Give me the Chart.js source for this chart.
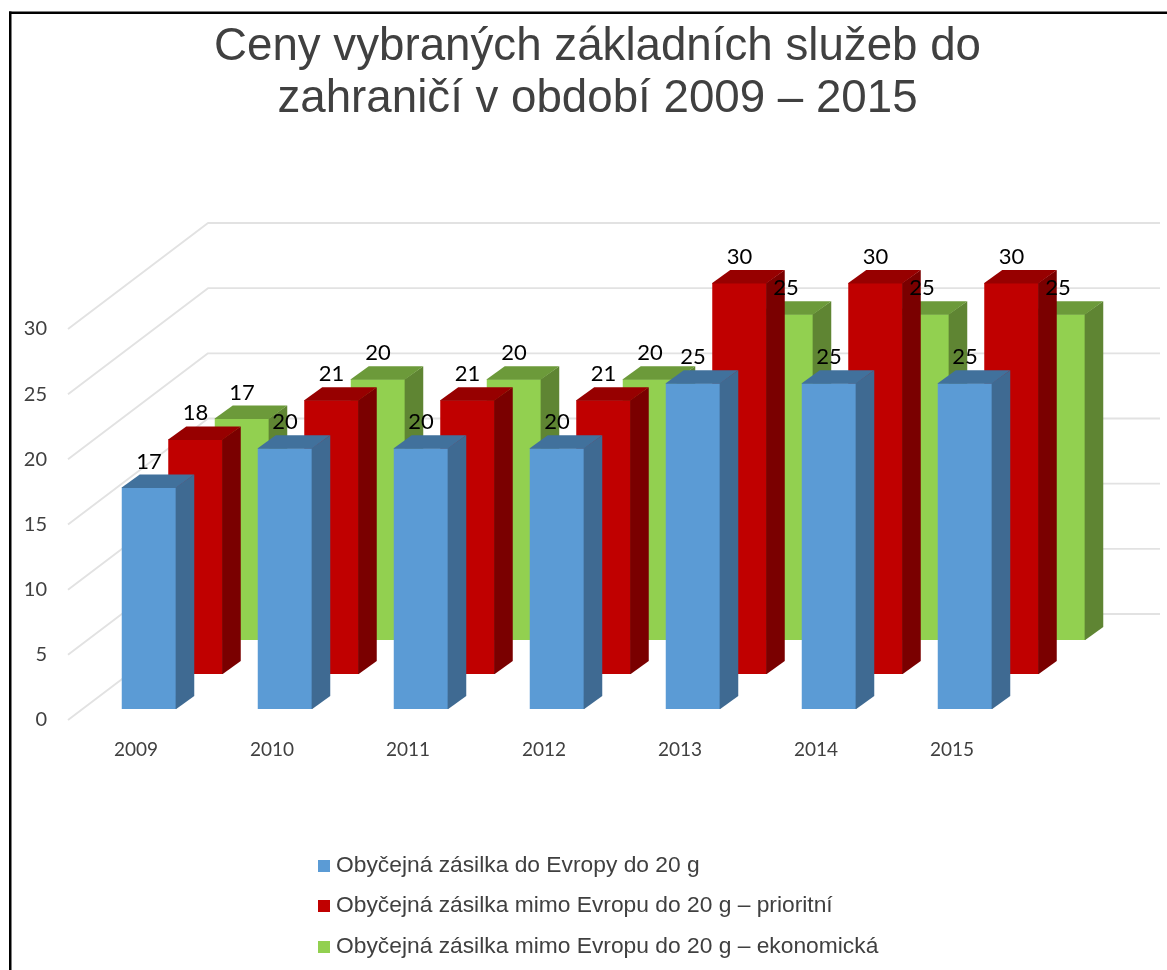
<!DOCTYPE html>
<html lang="cs"><head><meta charset="utf-8">
<style>html,body{margin:0;padding:0;background:#fff}#w{width:1167px;height:970px;position:relative;overflow:hidden}</style>
<script src="https://cdn.jsdelivr.net/npm/chart.js@4/dist/chart.umd.min.js"></script>
</head><body><div id="w"><canvas id="c" width="1167" height="970"></canvas></div>
<script>
const years = [2009, 2010, 2011, 2012, 2013, 2014, 2015];
const evropa = [17, 20, 20, 20, 25, 25, 25];
const prioritni = [18, 21, 21, 21, 30, 30, 30];
const ekonomicka = [17, 20, 20, 20, 25, 25, 25];
const seriesNames = ['Obyčejná zásilka do Evropy do 20 g',
  'Obyčejná zásilka mimo Evropu do 20 g – prioritní',
  'Obyčejná zásilka mimo Evropu do 20 g – ekonomická'];
const frontColors = ['#5B9BD5', '#C00000', '#92D050'];
const sideColors = ['#3F6A92', '#7A0000', '#5F8533'];
const topColors = ['#41719C', '#970000', '#6C9A3A'];
const titleLines = ['Ceny vybraných základních služeb do', 'zahraničí v období 2009 – 2015'];

const UNIT = 391 / 30;           // px per unit on the front plane
const plane = d => -d / UNIT;    // axis minimum for a plane raised d px
const BAR_DX = 18, BAR_DY = 13, WALL_DX = 140, WALL_DY = 106;

const poly = (ctx, pts, fill) => {
  ctx.beginPath(); pts.forEach((p, i) => i ? ctx.lineTo(p[0], p[1]) : ctx.moveTo(p[0], p[1]));
  ctx.closePath(); ctx.fillStyle = fill; ctx.fill();
};

const depthPlugin = {
  id: 'depth',
  beforeDraw(chart) {
    const ctx = chart.ctx;
    ctx.save();
    ctx.fillStyle = '#000';
    ctx.fillRect(9, 11.5, 1158, 2.5);
    ctx.fillRect(9, 11.5, 2.5, 959);
    ctx.restore();
  },
  beforeDatasetsDraw(chart) {
    const ctx = chart.ctx, y = chart.scales.y, L = chart.chartArea.left;
    ctx.save();
    ctx.strokeStyle = '#E2E2E2'; ctx.lineWidth = 1.9; ctx.lineJoin = 'round';
    y.ticks.forEach(t => {
      const p = y.getPixelForValue(t.value);
      ctx.beginPath(); ctx.moveTo(L, p); ctx.lineTo(L + WALL_DX, p - WALL_DY); ctx.lineTo(1160, p - WALL_DY); ctx.stroke();
    });
    ctx.restore();
  },
  afterDatasetDraw(chart, args) {
    const ctx = chart.ctx, i = args.index;
    chart.getDatasetMeta(i).data.forEach(b => {
      const l = b.x - b.width / 2, r = b.x + b.width / 2, t = b.y, z = b.base;
      poly(ctx, [[r - 0.6, t], [r + BAR_DX, t - BAR_DY], [r + BAR_DX, z - BAR_DY], [r, z], [r - 0.6, z]], sideColors[i]);
      poly(ctx, [[l, t + 0.5], [l, t], [l + BAR_DX, t - BAR_DY], [r + BAR_DX, t - BAR_DY], [r - 0.6, t + 0.5]], topColors[i]);
    });
  },
  afterDraw(chart) {
    const ctx = chart.ctx;
    ctx.save();
    ctx.fillStyle = '#000'; ctx.font = '22px Lato'; ctx.textAlign = 'center'; ctx.textBaseline = 'middle';
    chart.data.datasets.forEach((ds, i) => {
      chart.getDatasetMeta(i).data.forEach((b, k) => ctx.fillText(String(ds.data[k]), b.x, b.y - 26));
    });
    const rows = [866, 906, 947];
    ctx.textAlign = 'left'; ctx.font = '22.8px "Liberation Sans"';
    chart.data.datasets.forEach((ds, i) => {
      ctx.fillStyle = frontColors[i]; ctx.fillRect(318, rows[i] - 6, 12, 12);
      ctx.fillStyle = '#404040'; ctx.fillText(ds.label, 336, rows[i]);
    });
    ctx.restore();
  }
};

const mk = (label, data, i, yId) => ({label, data, backgroundColor: frontColors[i], borderWidth: 0,
  xAxisID: 'xBars', yAxisID: yId, clip: false,
  categoryPercentage: 139.5 / 136, barPercentage: 54.5 / 46.5});
const hiddenY = d => ({display: false, min: plane(d), max: 30 + plane(d), bounds: 'data'});

new Chart(document.getElementById('c'), {
  type: 'bar',
  plugins: [depthPlugin],
  data: {labels: years, datasets: [
    mk(seriesNames[0], evropa, 0, 'yFront'),
    mk(seriesNames[1], prioritni, 1, 'yMiddle'),
    mk(seriesNames[2], ekonomicka, 2, 'yBack')
  ]},
  options: {
    responsive: false, animation: false,
    layout: {padding: {right: -28}},
    plugins: {
      legend: {display: false}, tooltip: {enabled: false},
      title: {display: true, text: titleLines, color: '#404040',
        font: {family: 'Liberation Sans', size: 45.7, weight: 'normal', lineHeight: 52 / 45.7},
        padding: {top: 21.5, bottom: 203.5}}
    },
    scales: {
      x: {type: 'category', offset: true, position: 'bottom', grid: {display: false}, border: {display: false},
        ticks: {color: '#404040', font: {family: 'Lato', size: 19}, padding: 10, autoSkip: false, maxRotation: 0},
        afterFit: s => { s.height = 250; }},
      xBars: {type: 'linear', display: false, offset: false, bounds: 'data', min: 2008.0625, max: 2015.0625},
      y: {type: 'linear', position: 'left', min: 0, max: 30, grid: {display: false}, border: {display: false},
        ticks: {stepSize: 5, color: '#404040', font: {family: 'Lato', size: 20}, padding: 13},
        afterFit: s => { s.width = 68; }},
      yFront: hiddenY(11),
      yMiddle: hiddenY(46),
      yBack: {type: 'linear', position: 'right', min: plane(80), max: 30 + plane(80), bounds: 'data',
        grid: {display: false}, border: {display: false}, ticks: {display: false},
        afterFit: s => { s.width = 175; }}
    }
  }
});
</script></body></html>
